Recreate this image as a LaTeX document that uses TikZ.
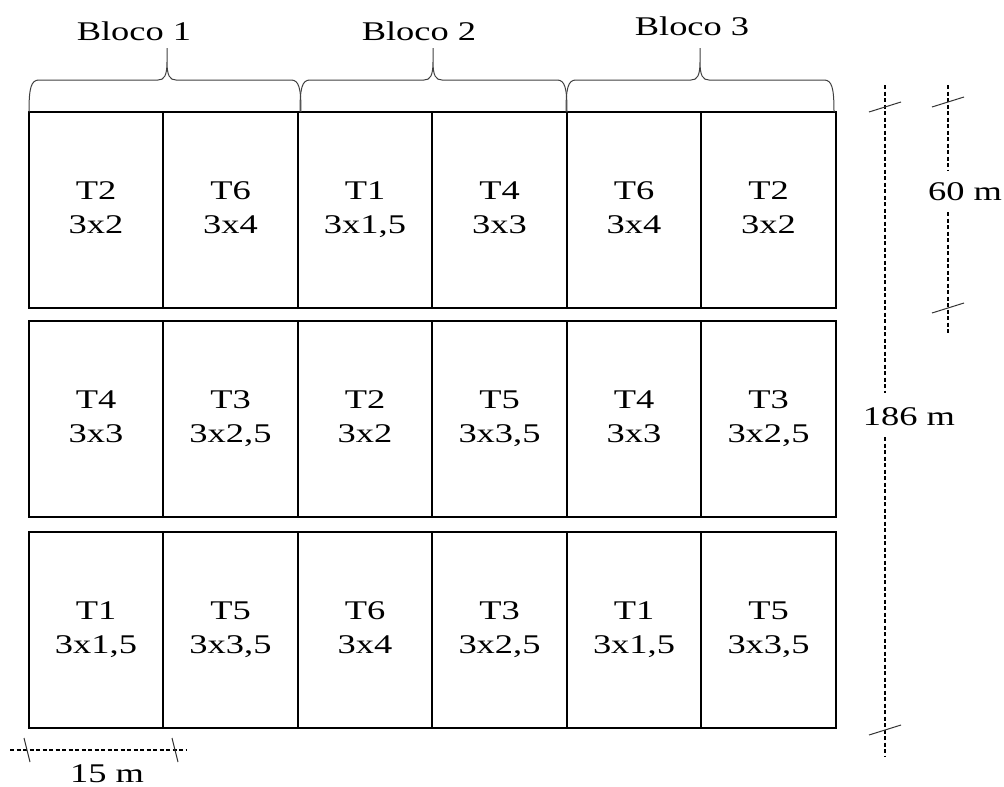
\documentclass[tikz,border=0pt]{standalone}
\usepackage{fontspec}
\setmainfont[FakeStretch=1.35]{Liberation Serif}
% Spacing for each treatment
\newcommand\espac[1]{\ifcase#1\or 3x1,5\or 3x2\or 3x2,5\or 3x3\or 3x3,5\or 3x4\fi\vphantom{,}}
\begin{document}
\begin{tikzpicture}[x=1pt,y=-1pt,
  plot/.style={draw, line width=1.5pt, minimum height=196pt,
    inner sep=0pt, align=center, font=\fontsize{27}{34}\selectfont},
  lbl/.style={font=\fontsize{27}{34}\selectfont, anchor=base, inner sep=0pt},
  brace/.style={draw=black!75, line width=1pt},
  dimline/.style={line width=1.6pt, dash pattern=on 4pt off 2.5pt},
  tickmark/.style={line width=1pt, draw=black!80}]
\useasboundingbox (0,0) rectangle (1004,787);
% Treatment in each plot, row by row
\def\trat{{2,6,1,4,6,2, 4,3,2,5,4,3, 1,5,6,3,1,5}}
\def\rowtop{{112,321,532}}
\def\colx{{29,163,298,432,567,701,836}}
% Plots
\foreach \r in {0,1,2} {
  \foreach \c in {0,...,5} {
    \pgfmathtruncatemacro{\tr}{\trat[6*\r+\c]}
    \pgfmathsetmacro{\yc}{\rowtop[\r]+98}
    \pgfmathsetmacro{\xl}{\colx[\c]}
    \pgfmathsetmacro{\xr}{\colx[\c+1]}
    \node[plot, minimum width={(\xr-\xl)*1pt}] (p-\r-\c) at ({(\xl+\xr)/2},\yc) {T\tr\\\espac{\tr}};
  }
}
% Blocks with braces
\foreach \xa/\xb/\xt/\lx/\ly/\n in {29/301/167/134/40/1, 300/567/433/419/40/2, 566/834/700/692/35/3} {
  \node[lbl] (bloco\n) at (\lx,\ly) {Bloco \n};
  \coordinate (tip\n) at (\xt,48);
  \draw[brace] (\xa,112) .. controls (\xa,88) and (\xa+2,80) .. (\xa+10,80)
    -- (\xt-9,80) .. controls (\xt-3,80) and (\xt,76) .. (\xt,62) -- (tip\n)
    -- (\xt,62) .. controls (\xt,76) and (\xt+3,80) .. (\xt+9,80)
    -- (\xb-10,80) .. controls (\xb-2,80) and (\xb,88) .. (\xb,112);
}
% Total length: 186 m
\node[lbl] (h-lbl) at (909,425) {186 m};
\coordinate (h-top) at (885,85);
\coordinate (h-gap1) at (885,393);
\coordinate (h-gap2) at (885,437);
\coordinate (h-bot) at (885,757);
\coordinate (h-t1) at (885,107);
\coordinate (h-t2) at (885,730);
\draw[dimline] (h-top) -- (h-gap1);
\draw[dimline] (h-gap2) -- (h-bot);
% Block length: 60 m
\node[lbl] (b-lbl) at (965,200) {60 m};
\coordinate (b-top) at (948,85);
\coordinate (b-gap1) at (948,170);
\coordinate (b-gap2) at (948,212);
\coordinate (b-bot) at (948,335);
\coordinate (b-t1) at (948,102);
\coordinate (b-t2) at (948,308);
\draw[dimline] (b-top) -- (b-gap1);
\draw[dimline] (b-gap2) -- (b-bot);
\foreach \k in {h-t1,h-t2,b-t1,b-t2}
  \draw[tickmark] ([shift={(-16,5)}]\k) -- ([shift={(16,-5)}]\k);
% Plot width: 15 m
\node[lbl] (w-lbl) at (107,782) {15 m};
\coordinate (w-left) at (10,750);
\coordinate (w-right) at (187,750);
\coordinate (w-t1) at (27,750);
\coordinate (w-t2) at (175,750);
\draw[dimline] (w-left) -- (w-right);
\foreach \k in {w-t1,w-t2}
  \draw[tickmark] ([shift={(-3,-12)}]\k) -- ([shift={(3,12)}]\k);
\end{tikzpicture}
\end{document}
